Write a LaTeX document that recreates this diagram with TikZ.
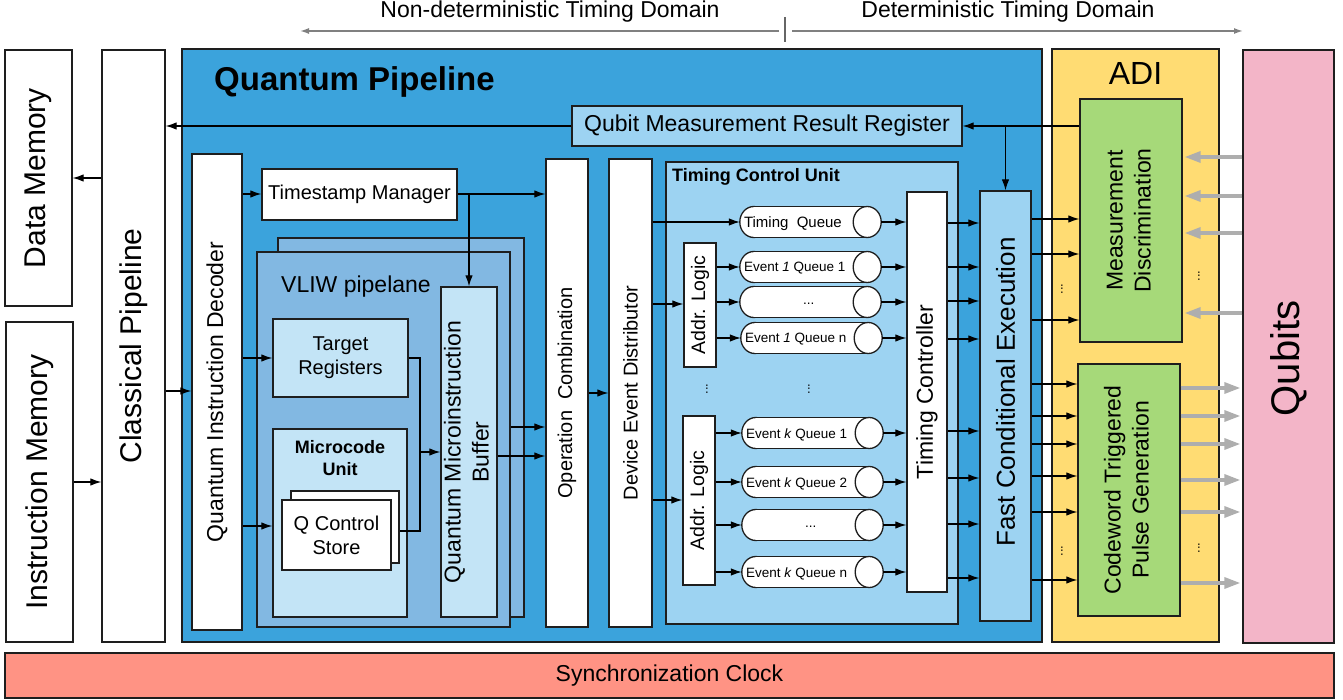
\documentclass[tikz,border=0pt]{standalone}
\usepackage{fontspec}
\setmainfont{Liberation Sans}
\usetikzlibrary{arrows.meta,calc}
\definecolor{qpblue}{HTML}{3BA3DC}
\definecolor{vliwblue}{HTML}{82B8E2}
\definecolor{ltblue}{HTML}{9DD3F2}
\definecolor{paleblue}{HTML}{C3E4F6}
\definecolor{adiyellow}{HTML}{FFDC73}
\definecolor{mdgreen}{HTML}{A6D979}
\definecolor{qpink}{HTML}{F3B5C8}
\definecolor{clksalmon}{HTML}{FF9384}
\definecolor{edge}{HTML}{1E1E1E}
\definecolor{garrow}{HTML}{AEAEAE}
\newcommand\myfs[2]{\fontsize{#1}{#2}\selectfont}
\newcommand\vtext[1]{\rotatebox{90}{#1}}
\newcommand\hR[4][arr]{\draw[#1] (#2.east |- 0,#4) -- (#3.west |- 0,#4);}
\newcommand\hL[4][arr]{\draw[#1] (#2.west |- 0,#4) -- (#3.east |- 0,#4);}
\newcommand\queue[5]{%
  \node[qbox] (#1) at (#2) {};
  \draw[cylline,fill=white] ($(#1.west)+(14,0)$) ellipse[x radius=14,y radius=15.5];
  \fill[white] ($(#1.north west)+(14,0)$) rectangle ($(#1.south east)+(-14,0)$);
  \draw[cylline] ($(#1.north west)+(14,0)$) -- ($(#1.north east)+(-14,0)$)
                 ($(#1.south west)+(14,0)$) -- ($(#1.south east)+(-14,0)$);
  \draw[cylline,fill=white] ($(#1.east)+(-14,0)$) ellipse[x radius=14,y radius=15.5];
  \node[anchor=west,inner sep=0pt,font=\myfs{#4}{#4}] at ($(#1.west)+(#3,1.5)$) {#5};
}
\begin{document}
\begin{tikzpicture}[x=1pt,y=-1pt,
  bx/.style={draw=edge,line width=1.3pt,inner sep=0pt,align=center},
  qbox/.style={draw=none,inner sep=0pt,minimum width=141pt,minimum height=31pt},
  cylline/.style={draw=edge,line width=1.3pt},
  arr/.style={draw=black,line width=1.2pt,-{Latex[length=11pt,width=7.5pt]}},
  conn/.style={draw=black,line width=1.2pt},
  garr/.style={draw=garrow,line width=3.2pt,shorten >=2pt,-{Triangle[length=16pt,width=11pt]}},
  domarr/.style={draw=black!50,line width=1.5pt,-{Latex[length=9pt,width=6pt]}},
  vdots/.style={font=\myfs{13}{13},inner sep=0pt,rotate=90}
]
\useasboundingbox (0,0) rectangle (1343,700);

% timing domains
\node[font=\myfs{23}{27}] (nd) at (550,12) {Non-deterministic Timing Domain};
\node[font=\myfs{23}{27}] (dd) at (1008,12) {Deterministic Timing Domain};
\coordinate (tk1) at (785,17);
\coordinate (tk2) at (785,42);
\coordinate (ndl) at (779,31);
\coordinate (ndend) at (300,31);
\coordinate (ddl) at (792,31);
\coordinate (ddend) at (1243,31);
\draw[draw=black!60,line width=1.6pt] (tk1) -- (tk2);
\draw[domarr] (ndl) -- (ndend);
\draw[domarr] (ddl) -- (ddend);

% memories and classical pipeline
\node[bx,fill=white,minimum width=67pt,minimum height=256pt] (datamem) at (38.5,178)
  {\vtext{\myfs{30}{36}Data Memory}};
\node[bx,fill=white,minimum width=67pt,minimum height=320pt] (instmem) at (39.5,482)
  {\vtext{\myfs{30}{36}Instruction Memory}};
\node[bx,fill=white,minimum width=63pt,minimum height=592pt] (classical) at (133.5,346)
  {\vtext{\myfs{30}{36}Classical Pipeline}};

% quantum pipeline
\node[bx,fill=qpblue,minimum width=860pt,minimum height=593pt] (qp) at (612,345.5) {};
\node[anchor=west,inner sep=0pt,font=\bfseries\myfs{33}{40}] (qpt) at (214,82) {Quantum Pipeline};
\node[bx,fill=ltblue,minimum width=390pt,minimum height=40pt,font=\myfs{23}{27}] (qmrr) at (767,126)
  {Qubit Measurement Result Register};

\node[bx,fill=white,minimum width=50pt,minimum height=476pt] (qid) at (217,392)
  {\vtext{\myfs{23}{27}Quantum Instruction Decoder}};
\node[bx,fill=white,minimum width=195pt,minimum height=51pt,font=\myfs{20}{24}] (tm) at (359.5,194.5)
  {Timestamp Manager};

% VLIW
\node[bx,fill=vliwblue,minimum width=246pt,minimum height=379pt] (vliwback) at (401,427.5) {};
\node[bx,fill=vliwblue,minimum width=253pt,minimum height=375pt] (vliw) at (383.5,439.5) {};
\node[anchor=west,inner sep=0pt,font=\myfs{23}{27}] (vliwt) at (281,287) {VLIW pipelane};
\node[bx,fill=paleblue,minimum width=135pt,minimum height=78pt,font=\myfs{20}{24}] (tr) at (340.5,358)
  {Target\\Registers};
\node[bx,fill=paleblue,minimum width=134pt,minimum height=188pt] (mu) at (340,523) {};
\node[align=center,inner sep=0pt,font=\bfseries\myfs{18}{22}] (mut) at (340,458) {Microcode\\Unit};
\node[bx,fill=white,minimum width=108pt,minimum height=72pt] (qcsback) at (345,527) {};
\node[bx,fill=white,minimum width=109pt,minimum height=70pt,font=\myfs{20}{24}] (qcs) at (336.5,535)
  {Q Control\\Store};
\node[bx,fill=paleblue,minimum width=56pt,minimum height=330pt] (qmb) at (469,452)
  {\vtext{\myfs{23}{28}\begin{tabular}{@{}c@{}}Quantum Microinstruction\\Buffer\end{tabular}}};

\node[bx,fill=white,minimum width=42pt,minimum height=468pt] (oc) at (567,393)
  {\vtext{\myfs{20}{24}Operation\ \ Combination}};
\node[bx,fill=white,minimum width=43pt,minimum height=468pt] (ded) at (630.5,393)
  {\vtext{\myfs{20}{24}Device Event Distributor}};

% timing control unit
\node[bx,fill=ltblue,minimum width=292pt,minimum height=462pt] (tcu) at (812,393) {};
\node[anchor=west,inner sep=0pt,font=\bfseries\myfs{18}{22}] (tcut) at (672,177) {Timing Control Unit};
\node[bx,fill=white,minimum width=32pt,minimum height=124pt] (al1) at (700,305)
  {\vtext{\myfs{19.5}{23}Addr. Logic}};
\node[bx,fill=white,minimum width=32pt,minimum height=169pt] (al2) at (699,500.5)
  {\vtext{\myfs{19.5}{23}Addr. Logic}};
\queue{tq}{810.5,222}{4}{15}{Timing\ \ Queue}
\queue{e11}{810.5,267}{4}{13.5}{Event \textit{1} Queue 1}
\queue{e1d}{810.5,302}{63}{13.5}{...}
\queue{e1n}{811.5,338}{4}{13.5}{Event \textit{1} Queue n}
\queue{ek1}{812.5,433}{4}{13.5}{Event \textit{k} Queue 1}
\queue{ek2}{812.5,482}{4}{13.5}{Event \textit{k} Queue 2}
\queue{ekd}{812.5,525}{63}{13.5}{...}
\queue{ekn}{812.5,572}{4}{13.5}{Event \textit{k} Queue n}
\node[vdots] (dot1) at (707,389) {...};
\node[vdots] (dot2) at (809,389) {...};
\node[bx,fill=white,minimum width=40pt,minimum height=400pt] (tc) at (927,392)
  {\vtext{\myfs{23}{27}Timing Controller}};

\node[bx,fill=ltblue,minimum width=51pt,minimum height=430pt] (fce) at (1005.5,406)
  {\vtext{\myfs{26}{30}\hspace*{28pt}Fast Conditional Execution}};

% ADI
\node[bx,fill=adiyellow,minimum width=167pt,minimum height=593pt] (adi) at (1135.5,345.5) {};
\node[font=\myfs{32}{36},inner sep=0pt] (adit) at (1135.5,73) {ADI};
\node[bx,fill=mdgreen,minimum width=102pt,minimum height=243pt] (md) at (1131,220.5)
  {\vtext{\myfs{23}{28}\begin{tabular}{@{}c@{}}Measurement\\Discrimination\end{tabular}}};
\node[bx,fill=mdgreen,minimum width=102pt,minimum height=252pt] (ctpg) at (1129,490)
  {\vtext{\myfs{23}{28}\begin{tabular}{@{}c@{}}Codeword Triggered\\Pulse Generation\end{tabular}}};
\node[vdots] (dot3) at (1062,289) {...};
\node[vdots] (dot4) at (1062,551) {...};
\node[vdots] (dot5) at (1199,276) {...};
\node[vdots] (dot6) at (1199,548) {...};

\node[bx,fill=qpink,minimum width=91pt,minimum height=593pt] (qubits) at (1288.5,346.5)
  {\vtext{\myfs{40}{46}Qubits\hspace*{24pt}}};
\node[bx,fill=clksalmon,minimum width=1329pt,minimum height=45pt,font=\myfs{23}{27}] (sync) at (669.5,675.5)
  {Synchronization Clock};

% connectors
\hL{classical}{datamem}{178}
\hR{instmem}{classical}{482}
\hL{qmrr}{classical}{126}
\hL{md}{qmrr}{126}
\draw[arr] (fce.north |- 0,126) -- (fce.north);
\hR{classical}{qid}{391}
\hR{qid}{tm}{194}
\hR{tm}{oc}{194}
\draw[arr] (qmb.north |- 0,194) -- (qmb.north);
\hR{qid}{tr}{358}
\hR{qid}{mu}{526}
\coordinate (j1) at (420,452);
\draw[conn] (tr.east) -| (j1) |- (qcsback.east |- 0,531);
\draw[arr] (j1) -- (qmb.west |- j1);
\hR{vliw}{oc}{427}
\hR{qmb}{oc}{456}
\hR{oc}{ded}{393}
\draw[arr] (ded.east |- tq) -- (tq.west);
\hR{ded}{al1}{304}
\hR{ded}{al2}{500}
\foreach \q in {e11,e1d,e1n} {\draw[arr] (al1.east |- \q) -- (\q.west);}
\foreach \q in {ek1,ek2,ekd,ekn} {\draw[arr] (al2.east |- \q) -- (\q.west);}
\foreach \q in {tq,e11,e1d,e1n,ek1,ek2,ekd,ekn} {\draw[arr] (\q.east) -- (tc.west |- \q);}
\foreach \y in {223,267,301,339,431,478,524,578} {\hR{tc}{fce}{\y}}
\foreach \y in {219,254,320} {\hR{fce}{md}{\y}}
\foreach \y in {384,416,444,476,512,580} {\hR{fce}{ctpg}{\y}}
\foreach \y in {157,196,233,313} {\hL[garr]{qubits}{md}{\y}}
\foreach \y in {388,416,444,480,512,583} {\hR[garr]{ctpg}{qubits}{\y}}
\end{tikzpicture}
\end{document}
